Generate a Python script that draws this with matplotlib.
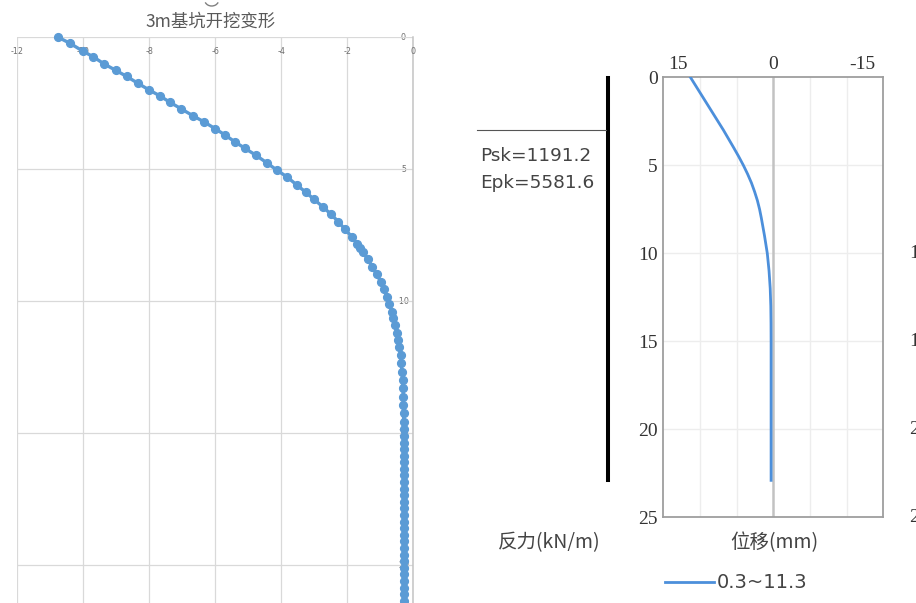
import matplotlib
matplotlib.use("Agg")
import matplotlib.pyplot as plt
from matplotlib.lines import Line2D
from matplotlib.patches import Arc
from matplotlib.transforms import IdentityTransform

plt.rcParams['font.family'] = ['Noto Sans CJK SC', 'DejaVu Sans']

# left chart: excavation deformation (x = displacement, y = depth)
left_title = '3m基坑开挖变形'
left_x = [-10.76, -10.40, -10.02, -9.70, -9.37, -9.02, -8.69, -8.35, -8.00, -7.68,
          -7.38, -7.05, -6.67, -6.35, -6.01, -5.71, -5.41, -5.10, -4.77, -4.45,
          -4.14, -3.82, -3.54, -3.26, -3.01, -2.75, -2.51, -2.28, -2.08, -1.87,
          -1.70, -1.62, -1.54, -1.39, -1.25, -1.12, -0.99, -0.89, -0.81, -0.73,
          -0.66, -0.61, -0.56, -0.51, -0.46, -0.43, -0.39, -0.37, -0.35, -0.33,
          -0.32, -0.31, -0.31, -0.30, -0.30, -0.29,
          -0.29, -0.29, -0.29, -0.29, -0.29, -0.29, -0.29, -0.29, -0.29, -0.29,
          -0.28, -0.28, -0.28, -0.28, -0.28, -0.28, -0.28, -0.28, -0.28, -0.28,
          -0.28, -0.28, -0.28, -0.28, -0.28, -0.28, -0.28, -0.28, -0.28]
left_y = [0.0, -0.23, -0.52, -0.74, -1.01, -1.25, -1.48, -1.74, -2.00, -2.22,
          -2.46, -2.70, -2.98, -3.20, -3.46, -3.70, -3.96, -4.21, -4.47, -4.75,
          -5.03, -5.30, -5.59, -5.87, -6.14, -6.42, -6.69, -6.98, -7.27, -7.55,
          -7.84, -7.97, -8.12, -8.41, -8.69, -8.98, -9.26, -9.55, -9.83, -10.11,
          -10.39, -10.64, -10.90, -11.21, -11.47, -11.72, -12.03, -12.35, -12.67, -12.98,
          -13.30, -13.61, -13.93, -14.24, -14.56, -14.85,
          -15.10, -15.35, -15.60, -15.85, -16.10, -16.35, -16.60, -16.85, -17.10, -17.35,
          -17.60, -17.85, -18.10, -18.35, -18.60, -18.85, -19.10, -19.35, -19.60, -19.85,
          -20.10, -20.35, -20.60, -20.85, -21.10, -21.35, -21.60, -21.85, -22.10]
left_xticks = [-12, -10, -8, -6, -4, -2, 0]
left_yticks = [0, -5, -10, -15, -20]

# right chart: wall displacement vs depth
right_depth = [0, 0.5, 1, 1.5, 2, 2.5, 3, 3.5, 4, 4.5, 5, 5.5, 6, 6.5, 7, 7.5, 8,
               9, 10, 11, 12, 13, 14, 15, 17, 19, 21, 22.9]
right_disp = [11.3, 10.55, 9.8, 9.05, 8.3, 7.55, 6.8, 6.1, 5.4, 4.72, 4.08, 3.5, 2.98,
              2.55, 2.17, 1.87, 1.63, 1.2, 0.82, 0.58, 0.42, 0.34, 0.31, 0.3, 0.3,
              0.3, 0.3, 0.3]
right_yticks = [0, 5, 10, 15, 20, 25]
right_xlabels = ['15', '0', '-15']
legend_label = '0.3~11.3'
psk_text = 'Psk=1191.2'
epk_text = 'Epk=5581.6'

W, H = 916, 603
fig = plt.figure(figsize=(W / 100, H / 100), dpi=100)


def fx(px):
    return px / W


def fy(py):
    return 1 - py / H


# ---- left Excel-style chart ----
axl = fig.add_axes([fx(17.3), 0, fx(413.5 - 17.3), (H - 37.3) / H])
axl.set_xlim(-12, 0)
axl.set_ylim(-21.43, 0)
for s in axl.spines.values():
    s.set_visible(False)
axl.set_xticks(left_xticks)
axl.set_yticks(left_yticks)
axl.tick_params(length=0, labelbottom=False, labelleft=False)
axl.grid(True, color='#D9D9D9', lw=0.9)
axl.axvline(0, color='#C4C4C4', lw=1.1, clip_on=False)
for v in left_xticks:
    axl.text(v, 1 - (52 - 37.3) / (H - 37.3), str(v), transform=axl.get_xaxis_transform(),
             ha='center', va='center', fontsize=5.8, color='#707070', family='DejaVu Sans')
for v in left_yticks:
    axl.text(-0.31, v, str(v), ha='center', va='center', fontsize=5.8,
             color='#707070', family='DejaVu Sans', zorder=1)
axl.plot(left_x, left_y, color='#5B9BD5', lw=2.4, marker='o', markersize=5.6,
         clip_on=False, zorder=3)
fig.text(fx(211), fy(21.7), left_title, ha='center', va='center', fontsize=12.5,
         color='#595959')
fig.add_artist(Arc((211.7, H), 14, 12, theta1=200, theta2=340, color='#808080',
                   lw=1.0, transform=IdentityTransform()))

# ---- right displacement chart ----
axr = fig.add_axes([fx(663.3), fy(517.3), fx(883.3 - 663.3), (517.3 - 77.3) / H])
axr.set_xlim(15, -15)
axr.set_ylim(25, 0)
for s in axr.spines.values():
    s.set_color('#9E9E9E')
    s.set_linewidth(1.3)
for v in [10, 5, -5, -10]:
    axr.axvline(v, color='#EDEDED', lw=1.0, zorder=0)
for d in [5, 10, 15, 20]:
    axr.axhline(d, color='#EDEDED', lw=1.0, zorder=0)
axr.axvline(0, color='#C2C2C2', lw=1.8, zorder=1)
axr.set_xticks([])
axr.set_yticks(right_yticks)
axr.set_yticklabels([str(v) for v in right_yticks], family='Liberation Serif',
                    fontsize=14, color='#333333')
axr.tick_params(axis='y', length=0, pad=4)
for pos, lab in zip([13.0, 0, -12.2], right_xlabels):
    axr.text(pos, 1 + (77.3 - 64) / 440, lab, transform=axr.get_xaxis_transform(),
             ha='center', va='center', family='Liberation Serif', fontsize=14,
             color='#333333')
axr.plot(right_disp, right_depth, color='#4C8FDB', lw=2.0, zorder=3)

# wall, excavation line and texts
fig.add_artist(Line2D([fx(608), fx(608)], [fy(77.6), fy(479.6)], color='black', lw=2.9))
fig.add_artist(Line2D([fx(476.7), fx(606)], [fy(130.2), fy(130.2)], color='#555555', lw=0.8))
fig.text(fx(480), fy(156.4), psk_text, ha='left', va='center', fontsize=13.3,
         color='#444444', family='DejaVu Sans')
fig.text(fx(480), fy(183.2), epk_text, ha='left', va='center', fontsize=13.3,
         color='#444444', family='DejaVu Sans')
fig.text(fx(549), fy(543), '反力(kN/m)', ha='center', va='center', fontsize=14,
         color='#444444')
fig.text(fx(774), fy(543), '位移(mm)', ha='center', va='center', fontsize=14,
         color='#444444')
fig.add_artist(Line2D([fx(665), fx(714)], [fy(582.4), fy(582.4)], color='#4C8FDB', lw=2.0))
fig.text(fx(717), fy(582.4), legend_label, ha='left', va='center', fontsize=14,
         color='#444444', family='DejaVu Sans')

# tick labels of the neighbouring chart, cut off at the right edge
for d in [10, 15, 20, 25]:
    fig.text(fx(909), fy(77.3 + d * 17.6), str(d), ha='left', va='center',
             family='Liberation Serif', fontsize=14, color='#333333')

fig.savefig('out.png', dpi=100)
